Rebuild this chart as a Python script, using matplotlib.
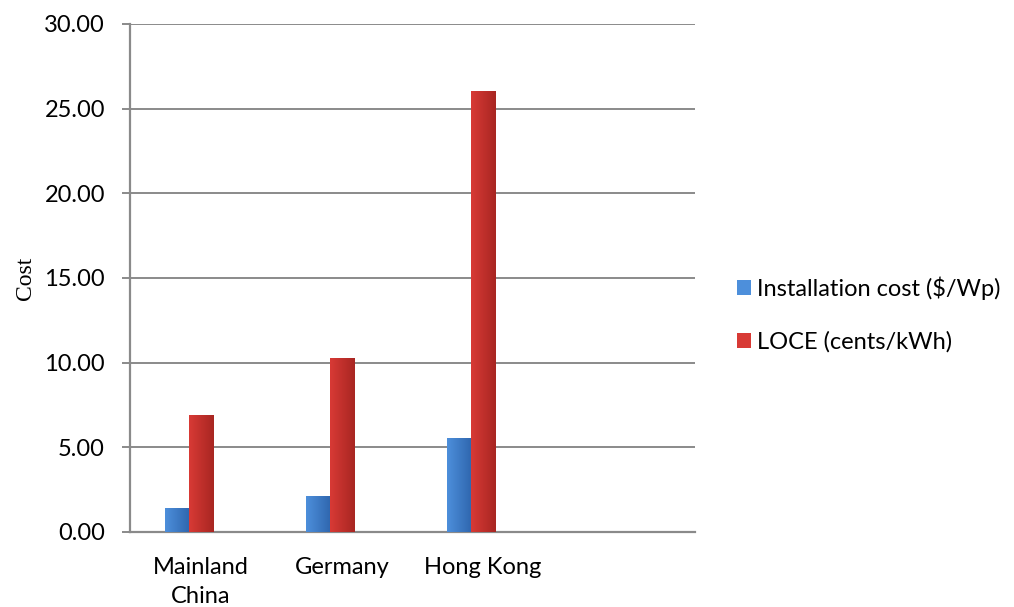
import numpy as np
import matplotlib
matplotlib.use("Agg")
import matplotlib.pyplot as plt
from matplotlib.colors import LinearSegmentedColormap
from matplotlib.patches import Patch

# Data
categories = ["Mainland\nChina", "Germany", "Hong Kong", ""]
installation_cost = [1.42, 2.13, 5.56, None]   # $/Wp
loce = [6.88, 10.28, 26.06, None]              # cents/kWh
series_labels = ["Installation cost ($/Wp)", "LOCE (cents/kWh)"]
y_ticks = [0, 5, 10, 15, 20, 25, 30]

blue_light, blue_dark = "#4d8fdb", "#2f66ae"
red_light, red_dark = "#d83a35", "#a82622"

plt.rcParams["font.family"] = ["Lato", "DejaVu Sans"]

fig = plt.figure(figsize=(10.14, 6.07), dpi=100)
ax = fig.add_axes([0.1282, 0.1236, 0.6854 - 0.1282, 0.9605 - 0.1236])

x = np.arange(len(categories))
w = 0.17
grid_c = "#8a8a8a"
fs = 17


def gradient_bars(bars, c_light, c_dark):
    cmap = LinearSegmentedColormap.from_list("g", [c_light, c_dark])
    grad = np.linspace(0, 1, 64).reshape(1, -1)
    for b in bars:
        if b.get_height() <= 0:
            continue
        x0, y0 = b.get_x(), b.get_y()
        im = ax.imshow(grad, cmap=cmap, aspect="auto", interpolation="bicubic",
                       extent=[x0, x0 + b.get_width(), y0, y0 + b.get_height()],
                       zorder=3)
        im.set_clip_path(b)
        b.set_facecolor("none")


vals_blue = [v if v is not None else 0 for v in installation_cost]
vals_red = [v if v is not None else 0 for v in loce]
b1 = ax.bar(x - w, vals_blue, w, color=blue_light, linewidth=0, zorder=3)
b2 = ax.bar(x, vals_red, w, color=red_light, linewidth=0, zorder=3)
gradient_bars(b1, blue_light, blue_dark)
gradient_bars(b2, red_light, red_dark)

ax.set_xlim(-0.5, len(categories) - 0.5)
ax.set_ylim(0, 30)
ax.set_yticks(y_ticks)
ax.set_yticklabels([f"{t:.2f}" for t in y_ticks], fontsize=fs)
ax.set_xticks(x)
ax.set_xticklabels(categories, fontsize=fs, linespacing=1.45)

ax.yaxis.grid(True, color=grid_c, linewidth=1.4, zorder=0)
ax.set_axisbelow(True)
for s in ["top", "right"]:
    ax.spines[s].set_visible(False)
for s in ["left", "bottom"]:
    ax.spines[s].set_color(grid_c)
    ax.spines[s].set_linewidth(1.6)
ax.tick_params(axis="y", length=6, width=1.4, color=grid_c, pad=12)
ax.tick_params(axis="x", length=0, pad=18)

ax.set_ylabel("Cost", fontsize=17, family=["Liberation Serif", "DejaVu Serif"],
              labelpad=6)

handles = [Patch(facecolor=blue_light, edgecolor="none"),
           Patch(facecolor=red_light, edgecolor="none")]
fig.legend(handles, series_labels, loc="upper left",
           bbox_to_anchor=(0.727, 0.545), frameon=False, fontsize=fs,
           handlelength=0.6, handleheight=0.6, handletextpad=0.25,
           labelspacing=1.35, borderaxespad=0, borderpad=0)

fig.savefig("out.png", dpi=100)
